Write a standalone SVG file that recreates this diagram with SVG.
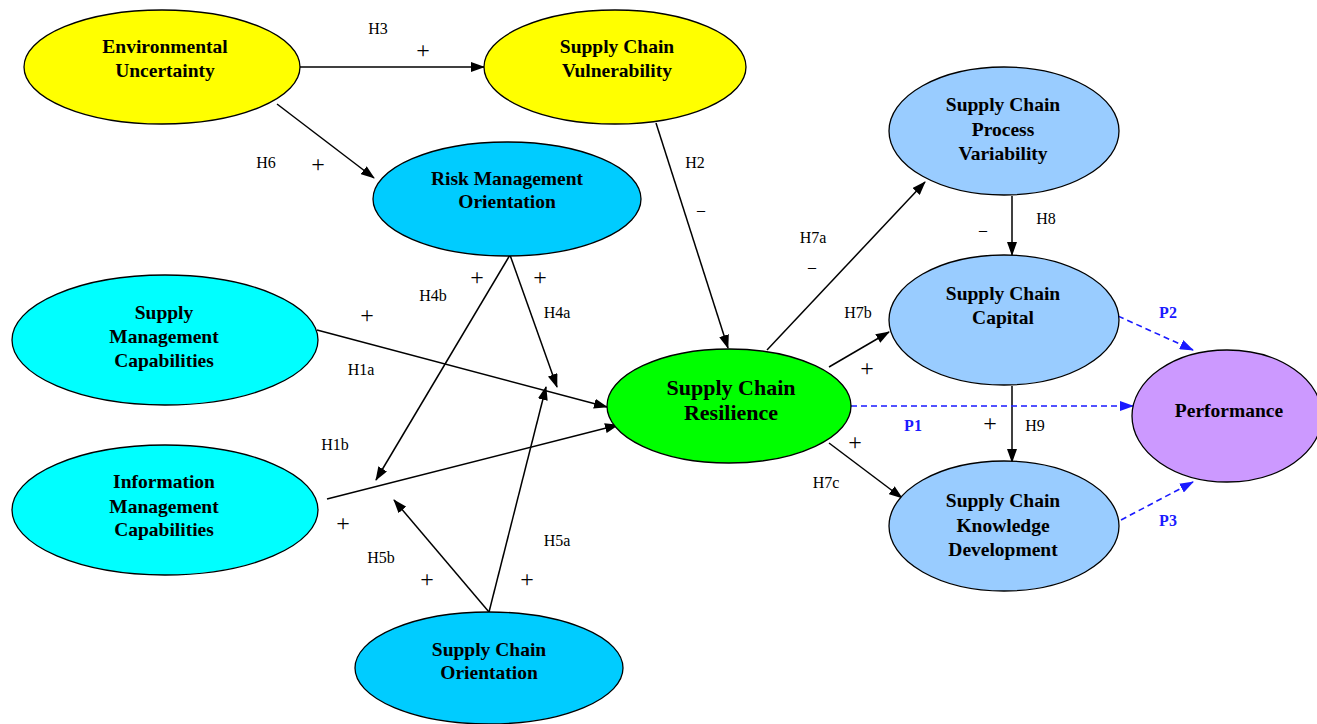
<svg xmlns="http://www.w3.org/2000/svg" width="1317" height="724" viewBox="0 0 1317 724">
<style>
.n{stroke:#000;stroke-width:1.3}
.t{font-family:"Liberation Serif",serif;font-weight:bold;font-size:19.5px;fill:#000;text-anchor:middle;dominant-baseline:central}
.big{font-size:22px}
.c{stroke:#000;stroke-width:1.5;fill:none;marker-end:url(#ah)}
.d{stroke:#1a1aff;stroke-width:1.6;fill:none;stroke-dasharray:6,4;marker-end:url(#ab)}
.l{font-family:"Liberation Serif",serif;font-size:16px;fill:#000;text-anchor:middle;dominant-baseline:central}
.p{font-family:"Liberation Serif",serif;font-size:24px;fill:#000;text-anchor:middle;dominant-baseline:central}
.b{font-family:"Liberation Serif",serif;font-size:16px;font-weight:bold;fill:#1a1aff;text-anchor:middle;dominant-baseline:central}
</style>
<defs>
<marker id="ah" markerUnits="userSpaceOnUse" markerWidth="14" markerHeight="10" refX="13" refY="5" orient="auto"><path d="M0,0 L14,5 L0,10 Z" fill="#000"/></marker>
<marker id="ab" markerUnits="userSpaceOnUse" markerWidth="14" markerHeight="10" refX="13" refY="5" orient="auto"><path d="M0,0 L14,5 L0,10 Z" fill="#1a1aff"/></marker>
</defs>
<rect width="1317" height="724" fill="#fff"/>
<g id="connectors">
<line class="c" x1="300" y1="67" x2="484" y2="67"/>
<line class="c" x1="277" y1="104" x2="374" y2="178"/>
<line class="c" x1="656" y1="123" x2="728" y2="348"/>
<line class="c" x1="767" y1="350" x2="925" y2="182"/>
<line class="c" x1="1012" y1="196" x2="1012" y2="255"/>
<line class="c" x1="829" y1="367" x2="889" y2="332"/>
<line class="c" x1="1012" y1="386" x2="1012" y2="462"/>
<line class="c" x1="829" y1="443" x2="902" y2="498"/>
<line class="c" x1="317" y1="330" x2="607" y2="407"/>
<line class="c" x1="327" y1="499" x2="618" y2="425"/>
<line class="c" x1="510" y1="255" x2="557" y2="387"/>
<line class="c" x1="510" y1="255" x2="376" y2="480"/>
<line class="c" x1="489" y1="612" x2="546" y2="387"/>
<line class="c" x1="489" y1="612" x2="394" y2="500"/>
<line class="d" x1="851" y1="406" x2="1133" y2="406"/>
<line class="d" x1="1109" y1="312" x2="1193" y2="350"/>
<line class="d" x1="1121" y1="520" x2="1193" y2="482"/>
</g>
<g id="labels">
<text class="l" x="378" y="28">H3</text><text class="p" x="423" y="50">+</text>
<text class="l" x="266" y="162">H6</text><text class="p" x="318" y="164">+</text>
<text class="l" x="695" y="162">H2</text><text class="l" x="701" y="209">–</text>
<text class="l" x="813" y="237">H7a</text><text class="l" x="812" y="266">–</text>
<text class="l" x="1046" y="218">H8</text><text class="l" x="983" y="229">–</text>
<text class="l" x="858" y="312">H7b</text><text class="p" x="867" y="368">+</text>
<text class="l" x="361" y="369">H1a</text><text class="p" x="367" y="315">+</text>
<text class="l" x="433" y="295">H4b</text><text class="p" x="477" y="277">+</text>
<text class="p" x="540" y="277">+</text><text class="l" x="557" y="312">H4a</text>
<text class="l" x="335" y="444">H1b</text>
<text class="p" x="343" y="523">+</text>
<text class="l" x="381" y="557">H5b</text><text class="p" x="427" y="579">+</text>
<text class="l" x="557" y="540">H5a</text><text class="p" x="527" y="579">+</text>
<text class="b" x="913" y="425">P1</text><text class="p" x="990" y="423">+</text><text class="l" x="1035" y="425">H9</text>
<text class="p" x="855" y="442">+</text><text class="l" x="826" y="482">H7c</text>
<text class="b" x="1168" y="312">P2</text>
<text class="b" x="1168" y="520">P3</text>
</g>
<g id="env"><ellipse class="n" cx="162" cy="67" rx="138" ry="57" fill="#ffff00"/><text class="t" x="165" y="46">Environmental</text><text class="t" x="165" y="70">Uncertainty</text></g>
<g id="scv"><ellipse class="n" cx="615" cy="67" rx="131" ry="57" fill="#ffff00"/><text class="t" x="617" y="46">Supply Chain</text><text class="t" x="617" y="70">Vulnerability</text></g>
<g id="rmo"><ellipse class="n" cx="507" cy="199" rx="134" ry="57" fill="#00ccff"/><text class="t" x="507" y="178">Risk Management</text><text class="t" x="507" y="201">Orientation</text></g>
<g id="smc"><ellipse class="n" cx="165" cy="340" rx="153" ry="65" fill="#00ffff"/><text class="t" x="164" y="312">Supply</text><text class="t" x="164" y="336">Management</text><text class="t" x="164" y="360">Capabilities</text></g>
<g id="imc"><ellipse class="n" cx="165" cy="510" rx="153" ry="65" fill="#00ffff"/><text class="t" x="164" y="481">Information</text><text class="t" x="164" y="506">Management</text><text class="t" x="164" y="529">Capabilities</text></g>
<g id="sco"><ellipse class="n" cx="489" cy="668" rx="134" ry="56" fill="#00ccff"/><text class="t" x="489" y="649">Supply Chain</text><text class="t" x="489" y="672">Orientation</text></g>
<g id="scr"><ellipse class="n" cx="729" cy="406" rx="122" ry="57" fill="#00ff00"/><text class="t big" x="731" y="387">Supply Chain</text><text class="t big" x="731" y="412">Resilience</text></g>
<g id="scpv"><ellipse class="n" cx="1004" cy="131" rx="115" ry="64" fill="#99ccff"/><text class="t" x="1003" y="104">Supply Chain</text><text class="t" x="1003" y="129">Process</text><text class="t" x="1003" y="153">Variability</text></g>
<g id="scc"><ellipse class="n" cx="1004" cy="320" rx="115" ry="65" fill="#99ccff"/><text class="t" x="1003" y="293">Supply Chain</text><text class="t" x="1003" y="317">Capital</text></g>
<g id="sckd"><ellipse class="n" cx="1004" cy="526" rx="115" ry="65" fill="#99ccff"/><text class="t" x="1003" y="500">Supply Chain</text><text class="t" x="1003" y="525">Knowledge</text><text class="t" x="1003" y="549">Development</text></g>
<g id="perf"><ellipse class="n" cx="1227" cy="416" rx="95" ry="66" fill="#cc99ff"/><text class="t" x="1229" y="410">Performance</text></g>
</svg>
